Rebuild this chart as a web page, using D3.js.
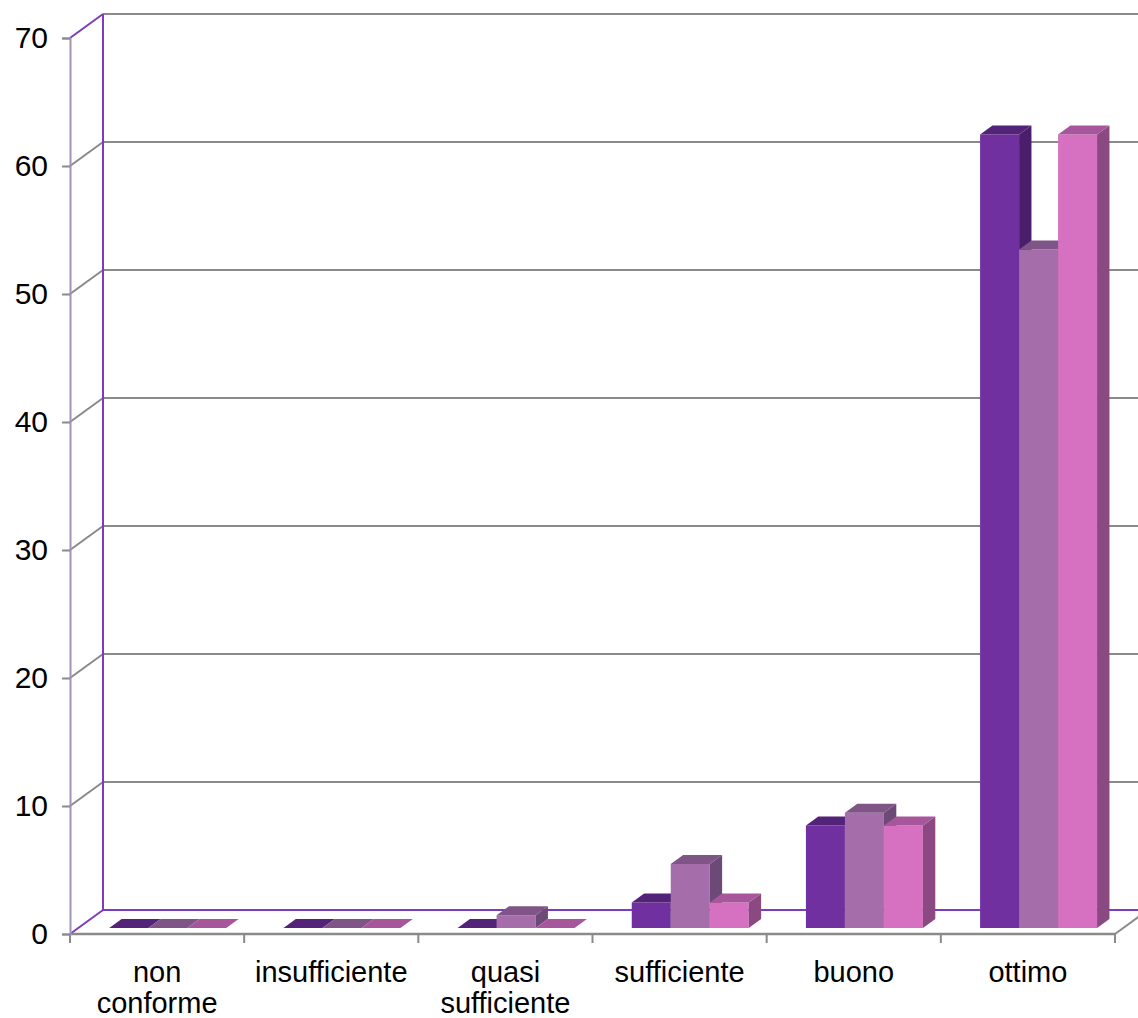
<!DOCTYPE html>
<html>
<head>
<meta charset="utf-8">
<script src="https://cdn.jsdelivr.net/npm/d3@7"></script>
<style>
  html, body { margin: 0; padding: 0; background: #ffffff; }
  svg { display: block; }
  text { font-family: "Liberation Sans", Arial, sans-serif; fill: #000; }
</style>
</head>
<body>
<svg id="chart" width="1138" height="1018"></svg>
<script>
// Rating categories along the floor of the 3D column chart
const categories = ["non conforme", "insufficiente", "quasi sufficiente", "sufficiente", "buono", "ottimo"];
const seriesNames = ["Serie 1", "Serie 2", "Serie 3"];
const series1 = [0, 0, 0, 2, 8, 62];
const series2 = [0, 0, 1, 5, 9, 53];
const series3 = [0, 0, 0, 2, 8, 62];
const yTicks = [0, 10, 20, 30, 40, 50, 60, 70];

const seriesValues = [series1, series2, series3];
const palette = [
  { front: "#7030a0", top: "#532379", side: "#4a1e6b" },
  { front: "#a56eaa", top: "#7f5587", side: "#6d4977" },
  { front: "#d571c0", top: "#a8569c", side: "#8a4981" }
];

const svg = d3.select("#chart");

// Oblique projection: depth z in [0,1] shifts right and up
const DX = 33, DY = 24;
const x = d3.scaleBand().domain(categories).range([70, 1115]).padding(0);
const inner = d3.scaleBand().domain(seriesNames).range([31, 148]).padding(0);
const y = d3.scaleLinear().domain([0, 70]).range([934, 38]);
const proj = (px, v, z) => [px + DX * z, y(v) - DY * z];

const gray = "#8a8a8a", purple = "#7b3cbf";
const xLeft = 70, xRight = 1115;

// Back wall gridlines
svg.append("g").selectAll("line.grid")
  .data(yTicks.filter(v => v > 0))
  .join("line")
  .attr("x1", xLeft + DX).attr("x2", xRight + DX)
  .attr("y1", v => y(v) - DY).attr("y2", v => y(v) - DY)
  .attr("stroke", gray).attr("stroke-width", 2);

// Side wall diagonals
svg.append("g").selectAll("line.diag")
  .data(yTicks)
  .join("line")
  .attr("x1", xLeft).attr("y1", v => y(v))
  .attr("x2", xLeft + DX).attr("y2", v => y(v) - DY)
  .attr("stroke", v => (v === 0 || v === 70) ? purple : gray)
  .attr("stroke-width", 2);

// Back wall vertical edge
svg.append("line")
  .attr("x1", xLeft + DX).attr("x2", xLeft + DX)
  .attr("y1", y(70) - DY).attr("y2", y(0) - DY)
  .attr("stroke", purple).attr("stroke-width", 2);

// Back wall bottom edge
svg.append("line")
  .attr("x1", xLeft + DX).attr("x2", xRight + DX)
  .attr("y1", y(0) - DY).attr("y2", y(0) - DY)
  .attr("stroke", purple).attr("stroke-width", 2);

// Floor front edge and right diagonal
svg.append("line")
  .attr("x1", xLeft).attr("x2", xRight)
  .attr("y1", y(0)).attr("y2", y(0))
  .attr("stroke", gray).attr("stroke-width", 2.5);
svg.append("line")
  .attr("x1", xRight).attr("y1", y(0))
  .attr("x2", xRight + DX).attr("y2", y(0) - DY)
  .attr("stroke", gray).attr("stroke-width", 2);

// Category boundary ticks
const step = x.step();
svg.append("g").selectAll("line.xtick")
  .data(d3.range(categories.length + 1))
  .join("line")
  .attr("x1", i => xLeft + i * step).attr("x2", i => xLeft + i * step)
  .attr("y1", y(0)).attr("y2", y(0) + 9)
  .attr("stroke", gray).attr("stroke-width", 2);

// Value axis
const yAxis = svg.append("g")
  .attr("transform", `translate(${xLeft},0)`)
  .call(d3.axisLeft(y).tickValues(yTicks).tickSize(8).tickPadding(14).tickFormat(d3.format("d")));
yAxis.select(".domain").attr("stroke", "#a092b4").attr("stroke-width", 2);
yAxis.selectAll(".tick line").attr("stroke", gray).attr("stroke-width", 2);
yAxis.selectAll(".tick text")
  .attr("font-size", 30).attr("font-family", "'Liberation Sans', Arial, sans-serif")
  .attr("fill", "#000");

// Category labels, wrapped on spaces
const labels = svg.append("g").selectAll("text.cat")
  .data(categories)
  .join("text")
  .attr("text-anchor", "middle")
  .attr("font-size", 29);
labels.each(function (d) {
  const cx = x(d) + x.bandwidth() / 2;
  d3.select(this).selectAll("tspan")
    .data(d.split(" "))
    .join("tspan")
    .attr("x", cx)
    .attr("y", (w, i) => 982 + i * 31)
    .text(w => w);
});

// 3D columns
const Z0 = 0.25, Z1 = 0.625;
const bars = [];
categories.forEach((c, ci) => {
  seriesNames.forEach((s, si) => {
    bars.push({ c, s, si, v: seriesValues[si][ci] });
  });
});
const pts = arr => arr.map(p => p.join(",")).join(" ");
const barG = svg.append("g").selectAll("g.bar")
  .data(bars)
  .join("g");
barG.each(function (d) {
  const g = d3.select(this);
  const xa = x(d.c) + inner(d.s);
  const xb = xa + inner.bandwidth();
  const col = palette[d.si];
  if (d.v > 0) {
    g.append("polygon")
      .attr("points", pts([proj(xa, 0, Z0), proj(xb, 0, Z0), proj(xb, d.v, Z0), proj(xa, d.v, Z0)]))
      .attr("fill", col.front);
    g.append("polygon")
      .attr("points", pts([proj(xb, 0, Z0), proj(xb, 0, Z1), proj(xb, d.v, Z1), proj(xb, d.v, Z0)]))
      .attr("fill", col.side);
  }
  g.append("polygon")
    .attr("points", pts([proj(xa, d.v, Z0), proj(xb, d.v, Z0), proj(xb, d.v, Z1), proj(xa, d.v, Z1)]))
    .attr("fill", col.top);
});
</script>
</body>
</html>
